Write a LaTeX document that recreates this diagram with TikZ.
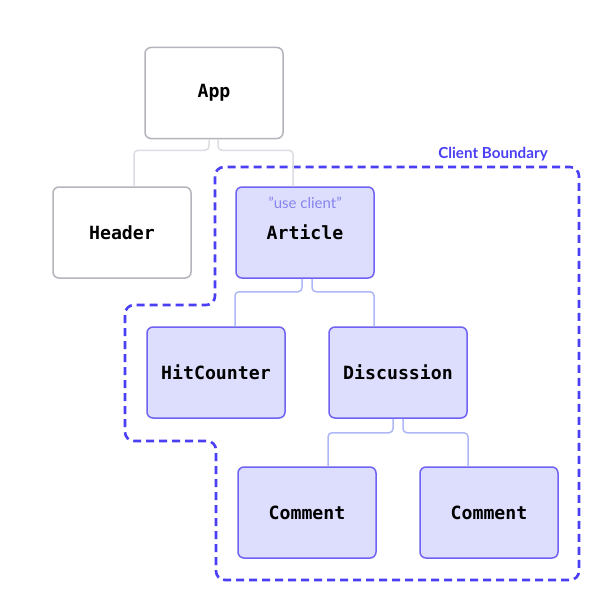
\documentclass[tikz,border=0pt]{standalone}
\usepackage{fontspec}
\setmainfont{Lato}
\setmonofont{DejaVu Sans Mono}
\usepackage{xcolor}
\definecolor{vizServer}{HTML}{B4B4BC}
\definecolor{vizClient}{HTML}{7062F2}
\definecolor{vizClientFill}{HTML}{DDDEFD}
\definecolor{vizLinkServer}{HTML}{DCDDE2}
\definecolor{vizLinkClient}{HTML}{AEB8F6}
\definecolor{vizBoundary}{HTML}{4A3FF5}
\definecolor{vizHint}{HTML}{8585EE}
\tikzset{
  comp/.style={rectangle, rounded corners=6pt, minimum width=138pt, minimum height=91pt, line width=1.5pt, font=\ttfamily\bfseries\fontsize{18.2}{21}\selectfont},
  servercomp/.style={comp, draw=vizServer, fill=white},
  clientcomp/.style={comp, draw=vizClient, fill=vizClientFill},
  serverlink/.style={draw=vizLinkServer, line width=1.5pt, rounded corners=4pt},
  clientlink/.style={draw=vizLinkClient, line width=1.5pt, rounded corners=4pt},
}

\begin{document}
\begin{tikzpicture}[x=1pt, y=1pt]
  \useasboundingbox (0,0) rectangle (600,-607);
  \fill[white] (0,0) rectangle (600,-607);
  % client boundary
  \draw[vizBoundary, line width=2.6pt, dash pattern=on 8pt off 5pt, rounded corners=9pt]
    (400,-167) -- (579,-167) -- (579,-580) -- (216,-580) -- (216,-441) -- (125,-441)
    -- (125,-305) -- (215,-305) -- (215,-167) -- cycle;
  \node[text=vizBoundary, font=\bfseries\fontsize{15.2}{17}\selectfont] (bndlabel) at (493,-154) {Client Boundary};
  % components
  \node[servercomp] (app) at (214,-93) {App};
  \node[servercomp] (header) at (122,-232.5) {Header};
  \node[clientcomp] (article) at (305,-232.5) {Article};
  \node[text=vizHint, font=\fontsize{15}{17}\selectfont] (usecl) at (305,-203) {"use client"};
  \node[clientcomp] (hitcounter) at (216,-372.5) {HitCounter};
  \node[clientcomp] (discussion) at (398,-372.5) {Discussion};
  \node[clientcomp] (commentA) at (307,-512.5) {Comment};
  \node[clientcomp] (commentB) at (489,-512.5) {Comment};
  % links
  \draw[serverlink] ([xshift=-5pt]app.south) -- ++(0,-11) -| ([xshift=12pt]header.north);
  \draw[serverlink] ([xshift=4pt]app.south) -- ++(0,-11) -| ([xshift=-12pt]article.north);
  \draw[clientlink] ([xshift=-3pt]article.south) -- ++(0,-13) -| ([xshift=19pt]hitcounter.north);
  \draw[clientlink] ([xshift=7pt]article.south) -- ++(0,-13) -| ([xshift=-24pt]discussion.north);
  \draw[clientlink] ([xshift=-5pt]discussion.south) -- ++(0,-14) -| ([xshift=21pt]commentA.north);
  \draw[clientlink] ([xshift=5pt]discussion.south) -- ++(0,-14) -| ([xshift=-21pt]commentB.north);
\end{tikzpicture}
\end{document}
